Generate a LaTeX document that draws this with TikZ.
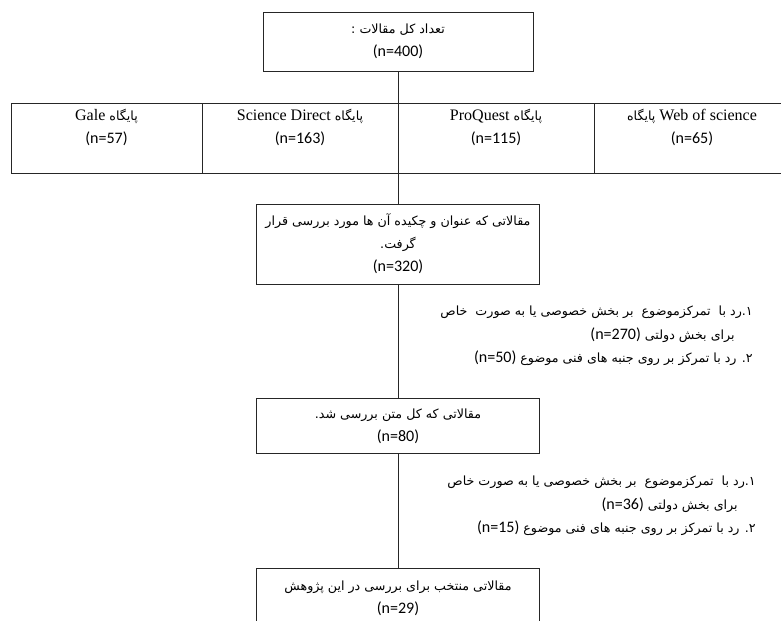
\documentclass[tikz,border=0pt]{standalone}
\usepackage{fontspec}
\setmainfont{Carlito}
\newfontfamily\fa[Script=Arabic,Scale=0.79]{DejaVu Sans}
\newfontfamily\lat{Liberation Serif}
\TeXXeTstate=1
\usepackage{tikz}

% texto persa (da direita para a esquerda)
\newcommand{\fatxt}[1]{{\fa\beginR #1\endR}}
\newcommand{\nome}[1]{\beginL{\lat #1}\endL}
\newcommand{\cont}[1]{\beginL{\rmfamily #1}\endL}

\begin{document}
\begin{tikzpicture}[
        caixa/.style={draw=black!85, line width=0.6pt, inner sep=0pt, align=center, font=\fontsize{11.4}{16.4}\selectfont},
        base/.style={caixa, minimum width=4.9cm, minimum height=1.75cm},
        nota/.style={anchor=north east, inner sep=0pt, align=right, font=\fontsize{11.4}{16.8}\selectfont},
        linha/.style={draw=black!85, line width=0.6pt}
    ]
        \useasboundingbox (0,0) rectangle (19.525,-15.5);

        \node[caixa, minimum width=6.75cm, minimum height=1.475cm] (b0) at (9.95,-1.04) {\fatxt{تعداد کل مقالات :}\\(n=400)};

        \node[base, minimum width=4.775cm] (d1) at (2.6625,-3.45) {\fatxt{پایگاه \nome{Gale}}\\(n=57)\\\mbox{}};
        \node[base] (d2) at (7.5,-3.45) {\fatxt{پایگاه \nome{Science Direct}}\\(n=163)\\\mbox{}};
        \node[base] (d3) at (12.4,-3.45) {\fatxt{پایگاه \nome{ProQuest}}\\(n=115)\\\mbox{}};
        \node[base] (d4) at (17.3,-3.45) {\fatxt{\nome{Web of science} پایگاه}\\(n=65)\\\mbox{}};

        \node[caixa, minimum width=7.075cm, minimum height=2cm] (b1) at (9.95,-6.1) {\fatxt{مقالاتی که عنوان و چکیده آن ها مورد بررسی قرار}\\\fatxt{گرفت.}\\(n=320)};
        \node[caixa, minimum width=7.075cm, minimum height=1.375cm] (b2) at (9.95,-10.66) {\fatxt{مقالاتی که کل متن بررسی شد.}\\(n=80)};
        \node[caixa, minimum width=7.075cm, minimum height=1.5cm] (b3) at (9.95,-14.95) {\fatxt{مقالاتی منتخب برای بررسی  در این پژوهش}\\(n=29)};

        \draw[linha] (b0) -- (b1);
        \draw[linha] (b1) -- (b2);
        \draw[linha] (b2) -- (b3);

        \node[nota] (r1) at (18.825,-7.64) {\fatxt{۱.رد با\ \ تمرکزموضوع\ \ بر بخش خصوصی یا به صورت\ \ خاص}\\\fatxt{\hspace*{0.45cm}برای بخش دولتی \cont{(n=270)}}\\\fatxt{۲. رد با تمرکز بر روی جنبه های فنی موضوع \cont{(n=50)}}};
        \node[nota] (r2) at (18.9,-11.89) {\fatxt{۱.رد با\ \ تمرکزموضوع\ \ بر بخش خصوصی یا به صورت خاص}\\\fatxt{\hspace*{0.45cm}برای بخش دولتی \cont{(n=36)}}\\\fatxt{۲. رد با تمرکز بر روی جنبه های فنی موضوع \cont{(n=15)}}};

    \end{tikzpicture}
\end{document}
